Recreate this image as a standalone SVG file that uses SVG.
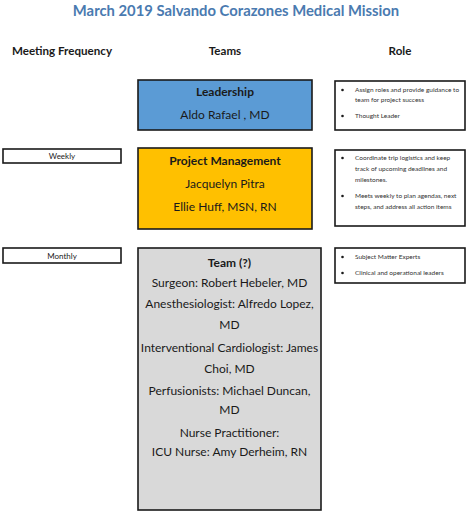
<svg xmlns="http://www.w3.org/2000/svg" width="467" height="512" viewBox="0 0 467 512">
<style>
.box{stroke:#1a1a1a;stroke-width:1.6}
.t{font-family:Lato,"Open Sans","Liberation Sans",sans-serif;fill:#1a1a1a;text-anchor:middle}
.h{font-size:11.6px;font-weight:bold}
.b{font-size:12px}
.bb{font-size:12px;font-weight:bold}
.s{font-family:Lato,"Liberation Sans",sans-serif;font-size:6.5px;fill:#333}
.bul{fill:#1a1a1a}
.f{font-size:8px}
</style>
<rect width="467" height="512" fill="#ffffff"/>
<text class="t" x="236" y="16" style="font-size:14.8px;font-weight:bold;fill:#4A7AB0">March 2019 Salvando Corazones Medical Mission</text>
<g id="headers">
<text class="t h" x="62" y="55">Meeting Frequency</text>
<text class="t h" x="225" y="55">Teams</text>
<text class="t h" x="400" y="55">Role</text>
</g>
<g id="leadership">
<rect class="box" x="138" y="80" width="174" height="50" fill="#5B9BD5"/>
<text class="t bb" x="225" y="96">Leadership</text>
<text class="t b" x="225" y="119">Aldo Rafael , MD</text>
</g>
<g id="project-management">
<rect class="box" x="138" y="148" width="174" height="81" fill="#FFC000"/>
<text class="t bb" x="225" y="165">Project Management</text>
<text class="t b" x="225" y="188">Jacquelyn Pitra</text>
<text class="t b" x="225" y="211">Ellie Huff, MSN, RN</text>
</g>
<g id="team">
<rect class="box" x="138" y="248" width="183" height="262" fill="#D9D9D9"/>
<text class="t bb" x="229.5" y="267">Team (?)</text>
<text class="t b" x="229.5" y="287">Surgeon: Robert Hebeler, MD</text>
<text class="t b" x="229.5" y="308">Anesthesiologist: Alfredo Lopez,</text>
<text class="t b" x="229.5" y="329">MD</text>
<text class="t b" x="229.5" y="352">Interventional Cardiologist: James</text>
<text class="t b" x="229.5" y="373">Choi, MD</text>
<text class="t b" x="229.5" y="395">Perfusionists: Michael Duncan,</text>
<text class="t b" x="229.5" y="414">MD</text>
<text class="t b" x="229.5" y="437">Nurse Practitioner:</text>
<text class="t b" x="229.5" y="456">ICU Nurse: Amy Derheim, RN</text>
</g>
<g id="weekly">
<rect class="box" x="3" y="149" width="118" height="14" fill="#ffffff"/>
<text class="t f" x="62" y="159">Weekly</text>
</g>
<g id="monthly">
<rect class="box" x="3" y="248" width="118" height="15" fill="#ffffff"/>
<text class="t f" x="62" y="258.5">Monthly</text>
</g>
<g id="role-leadership">
<rect class="box" x="335" y="81" width="130" height="49" fill="#ffffff"/>
<circle class="bul" cx="342.5" cy="90" r="1.3"/>
<text class="s" x="355" y="92">Assign roles and provide guidance to</text>
<text class="s" x="355" y="102">team for project success</text>
<circle class="bul" cx="342.5" cy="116" r="1.3"/>
<text class="s" x="355" y="118">Thought Leader</text>
</g>
<g id="role-pm">
<rect class="box" x="335" y="150" width="130" height="76" fill="#ffffff"/>
<circle class="bul" cx="342.5" cy="158" r="1.3"/>
<text class="s" x="355" y="160">Coordinate trip logistics and keep</text>
<text class="s" x="355" y="171">track of upcoming deadlines and</text>
<text class="s" x="355" y="182">milestones.</text>
<circle class="bul" cx="342.5" cy="196" r="1.3"/>
<text class="s" x="355" y="198">Meets weekly to plan agendas, next</text>
<text class="s" x="355" y="209">steps, and address all action items</text>
</g>
<g id="role-team">
<rect class="box" x="335" y="248" width="130" height="35" fill="#ffffff"/>
<circle class="bul" cx="342.5" cy="257" r="1.3"/>
<text class="s" x="355" y="259">Subject Matter Experts</text>
<circle class="bul" cx="342.5" cy="273" r="1.3"/>
<text class="s" x="355" y="275">Clinical and operational leaders</text>
</g>
</svg>
